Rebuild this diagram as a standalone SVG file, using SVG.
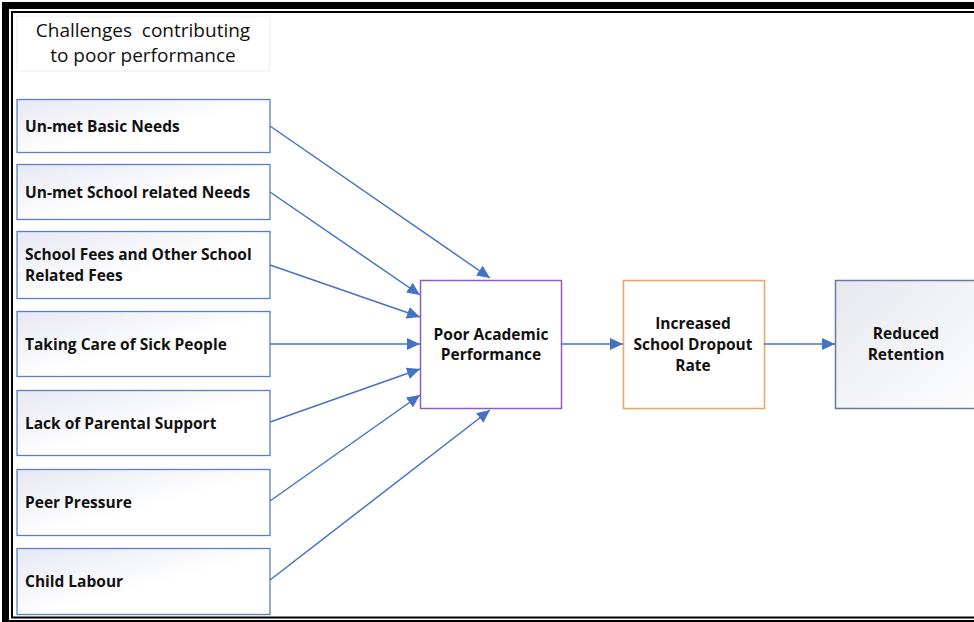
<svg xmlns="http://www.w3.org/2000/svg" width="974" height="622" viewBox="0 0 974 622">
  <defs>
    <linearGradient id="cause-fill" x1="0" y1="0" x2="1" y2="1">
      <stop offset="0" stop-color="#e6e8f3"/>
      <stop offset="0.55" stop-color="#ffffff"/>
      <stop offset="1" stop-color="#ffffff"/>
    </linearGradient>
    <linearGradient id="outcome-fill" x1="0" y1="0" x2="1" y2="1">
      <stop offset="0" stop-color="#e6e8ee"/>
      <stop offset="1" stop-color="#ffffff"/>
    </linearGradient>
    <marker id="arrow" markerUnits="userSpaceOnUse" markerWidth="14" markerHeight="12" refX="13" refY="6" orient="auto">
      <path d="M0,0 L13,6 L0,12 Z" fill="#4472c4"/>
    </marker>
  </defs>
  <style>
    .cause rect { fill: url(#cause-fill); stroke: #5b80c4; stroke-width: 1.3; }
    .label { font-family: "Open Sans", "Noto Sans", sans-serif; font-weight: bold; font-size: 15.5px; fill: #111; }
    .center { text-anchor: middle; }
    .title { font-family: "Open Sans", "Noto Sans", sans-serif; font-size: 19px; fill: #111; text-anchor: middle; }
    #connectors line { stroke: #4472c4; stroke-width: 1.5; marker-end: url(#arrow); }
  </style>

  <rect width="974" height="622" fill="#ffffff"/>

  <!-- double frame -->
  <rect x="5.5" y="5.5" width="980" height="618" fill="none" stroke="#000" stroke-width="7"/>
  <rect x="12" y="12" width="980" height="605.5" fill="none" stroke="#000" stroke-width="2"/>

  <!-- heading -->
  <g id="heading">
    <rect x="17" y="16" width="253" height="55" fill="#ffffff" stroke="#eeeeee" stroke-width="1"/>
    <text class="title" x="143" y="37" xml:space="preserve">Challenges  contributing</text>
    <text class="title" x="143" y="62">to poor performance</text>
  </g>

  <!-- causes -->
  <g id="unmet-basic-needs" class="cause">
    <rect x="17" y="99.5" width="253" height="53"/>
    <text class="label" x="25" y="131.5">Un-met Basic Needs</text>
  </g>
  <g id="unmet-school-needs" class="cause">
    <rect x="17" y="164.5" width="253" height="55"/>
    <text class="label" x="25" y="197.5">Un-met School related Needs</text>
  </g>
  <g id="school-fees" class="cause">
    <rect x="17" y="231.5" width="253" height="67"/>
    <text class="label" x="25" y="259.5">School Fees and Other School</text>
    <text class="label" x="25" y="280.5">Related Fees</text>
  </g>
  <g id="sick-people" class="cause">
    <rect x="17" y="311.5" width="253" height="65"/>
    <text class="label" x="25" y="349.5">Taking Care of Sick People</text>
  </g>
  <g id="parental-support" class="cause">
    <rect x="17" y="390.5" width="253" height="65"/>
    <text class="label" x="25" y="428.5">Lack of Parental Support</text>
  </g>
  <g id="peer-pressure" class="cause">
    <rect x="17" y="469.5" width="253" height="66"/>
    <text class="label" x="25" y="507.5">Peer Pressure</text>
  </g>
  <g id="child-labour" class="cause">
    <rect x="17" y="548.5" width="253" height="66"/>
    <text class="label" x="25" y="586.5">Child Labour</text>
  </g>

  <!-- effects chain -->
  <g id="poor-performance">
    <rect x="420.5" y="280.5" width="141" height="128" fill="#ffffff" stroke="#8e5cc4" stroke-width="1.5"/>
    <text class="label center" x="491" y="339.5">Poor Academic</text>
    <text class="label center" x="491" y="359.5">Performance</text>
  </g>
  <g id="dropout-rate">
    <rect x="623.5" y="280.5" width="141" height="128" fill="#ffffff" stroke="#f4a062" stroke-width="1.5"/>
    <text class="label center" x="693" y="328.5">Increased</text>
    <text class="label center" x="693" y="349.5">School Dropout</text>
    <text class="label center" x="693" y="370.5">Rate</text>
  </g>
  <g id="reduced-retention">
    <rect x="835.5" y="280.5" width="160" height="128" fill="url(#outcome-fill)" stroke="#5f7ea3" stroke-width="1.5"/>
    <text class="label center" x="906" y="338.5">Reduced</text>
    <text class="label center" x="906" y="359.5">Retention</text>
  </g>

  <g id="connectors">
    <line x1="270" y1="126" x2="490" y2="278"/>
    <line x1="270" y1="192" x2="420" y2="295"/>
    <line x1="270" y1="265" x2="420" y2="317"/>
    <line x1="270" y1="344" x2="420" y2="344"/>
    <line x1="270" y1="422" x2="420" y2="369"/>
    <line x1="270" y1="501" x2="420" y2="395"/>
    <line x1="270" y1="580" x2="490" y2="410"/>
    <line x1="561" y1="344" x2="623" y2="344"/>
    <line x1="764" y1="344" x2="835" y2="344"/>
  </g>
</svg>
